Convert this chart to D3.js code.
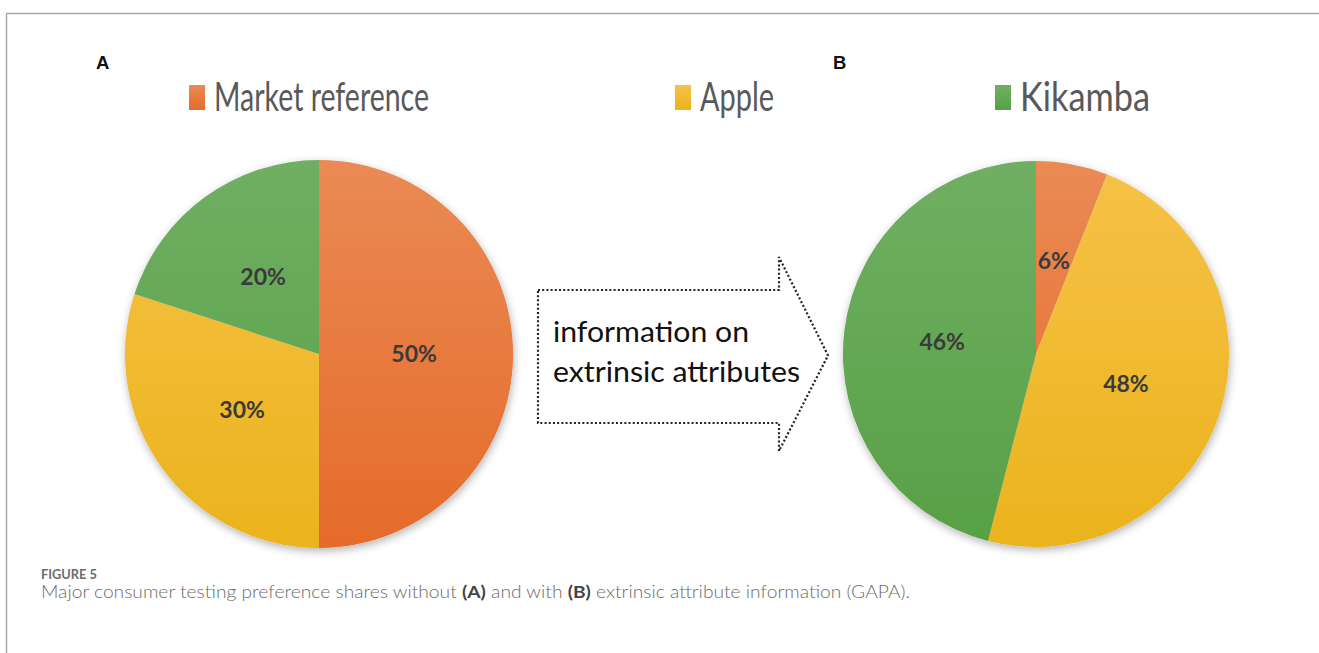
<!DOCTYPE html>
<html>
<head>
<meta charset="utf-8">
<script src="https://cdn.jsdelivr.net/npm/d3@7"></script>
<style>
  body { margin: 0; background: #fff; }
  svg { display: block; }
</style>
</head>
<body>
<div id="container"></div>
<script>
/**
 * DATA
 * */
const categories = ["Market reference", "Apple", "Kikamba"];
const sharesA = [50, 30, 20];   // without extrinsic info
const sharesB = [6, 48, 46];    // with extrinsic info
const panelLabels = ["A", "B"];
const arrowLines = ["information on", "extrinsic attributes"];
const captionTitle = "FIGURE 5";

const width = 1319, height = 653;

// colours: [top, bottom] of each slice gradient
const colorPairs = {
  "Market reference": ["#ea8a55", "#e56b29"],
  "Apple": ["#f6c248", "#ebb31c"],
  "Kikamba": ["#70af63", "#57a045"]
};

const svg = d3.select("#container")
  .append("svg")
  .attr("width", width)
  .attr("height", height);

const defs = svg.append("defs");

defs.append("filter")
  .attr("id", "shadow")
  .attr("x", "-20%").attr("y", "-20%")
  .attr("width", "140%").attr("height", "140%")
  .append("feDropShadow")
  .attr("dx", 1).attr("dy", 3)
  .attr("stdDeviation", 4)
  .attr("flood-color", "#000")
  .attr("flood-opacity", 0.3);

// frame lines (top + left)
svg.append("line")
  .attr("x1", 6).attr("y1", 13.5).attr("x2", width).attr("y2", 13.5)
  .attr("stroke", "#aaa").attr("stroke-width", 1.5);
svg.append("line")
  .attr("x1", 6.5).attr("y1", 13).attr("x2", 6.5).attr("y2", height)
  .attr("stroke", "#aaa").attr("stroke-width", 1.5);

// panel letters
const letterX = [96, 833];
svg.selectAll("text.panel")
  .data(panelLabels)
  .join("text")
  .attr("class", "panel")
  .attr("x", (d, i) => letterX[i])
  .attr("y", 68.5)
  .attr("font-family", "Liberation Sans, Arial, sans-serif")
  .attr("font-weight", "bold")
  .attr("font-size", 18.5)
  .attr("fill", "#111")
  .text(d => d);

// legend
const legendX = [189, 675, 995];
const legendW = [215, 74, 130];
const legend = svg.selectAll("g.legend")
  .data(categories)
  .join("g")
  .attr("class", "legend")
  .attr("transform", (d, i) => `translate(${legendX[i]},0)`);

legend.each(function(d) {
  const g = d3.select(this);
  const gid = "leg" + d.replace(/\s/g, "");
  const lg = defs.append("linearGradient")
    .attr("id", gid).attr("x1", 0).attr("y1", 0).attr("x2", 0).attr("y2", 1);
  lg.append("stop").attr("offset", "0%").attr("stop-color", colorPairs[d][0]);
  lg.append("stop").attr("offset", "100%").attr("stop-color", colorPairs[d][1]);
  g.append("rect")
    .attr("x", 0).attr("y", 85)
    .attr("width", 16).attr("height", 25)
    .attr("fill", `url(#${gid})`);
});

legend.append("text")
  .attr("x", 25)
  .attr("y", 111)
  .attr("font-family", "Lato, 'Open Sans', sans-serif")
  .attr("font-size", 40)
  .attr("fill", "#595959")
  .attr("textLength", (d, i) => legendW[i])
  .attr("lengthAdjust", "spacingAndGlyphs")
  .text(d => d);

// pies
const pies = [
  { values: sharesA, cx: 319, cy: 354, r: 194 },
  { values: sharesB, cx: 1036, cy: 354, r: 193 }
];

const pieGen = d3.pie().sort(null).value(d => d.value);

pies.forEach((p, pi) => {
  const data = categories.map((c, i) => ({ name: c, value: p.values[i] }));
  const arcs = pieGen(data);
  const arc = d3.arc().innerRadius(0).outerRadius(p.r);
  const labelArc = d3.arc().innerRadius(p.r * 0.49).outerRadius(p.r * 0.49);

  categories.forEach(c => {
    const lg = defs.append("linearGradient")
      .attr("id", `g${pi}${c.replace(/\s/g, "")}`)
      .attr("gradientUnits", "userSpaceOnUse")
      .attr("x1", 0).attr("y1", -p.r).attr("x2", 0).attr("y2", p.r);
    lg.append("stop").attr("offset", "0%").attr("stop-color", colorPairs[c][0]);
    lg.append("stop").attr("offset", "100%").attr("stop-color", colorPairs[c][1]);
  });

  const g = svg.append("g")
    .attr("transform", `translate(${p.cx},${p.cy})`);

  g.append("circle")
    .attr("r", p.r)
    .attr("fill", "#ddd")
    .attr("filter", "url(#shadow)");

  g.selectAll("path")
    .data(arcs)
    .join("path")
    .attr("d", arc)
    .attr("fill", d => `url(#g${pi}${d.data.name.replace(/\s/g, "")})`);

  g.selectAll("text")
    .data(arcs)
    .join("text")
    .attr("transform", d => `translate(${labelArc.centroid(d)})`)
    .attr("text-anchor", "middle")
    .attr("dy", "0.36em")
    .attr("font-family", "Lato, 'Open Sans', sans-serif")
    .attr("font-weight", "bold")
    .attr("font-size", 23)
    .attr("fill", "#3a3a3a")
    .text(d => d.data.value + "%");
});

// dotted arrow
const ax0 = 538, ax1 = 779, atip = 828, ay0 = 290, ay1 = 423, ahTop = 257, ahBot = 451;
const arrowPts = [
  [ax0, ay0], [ax1, ay0], [ax1, ahTop], [atip, (ay0 + ay1) / 2 - 1],
  [ax1, ahBot], [ax1, ay1], [ax0, ay1]
];
svg.append("path")
  .attr("d", d3.line()(arrowPts) + "Z")
  .attr("fill", "none")
  .attr("stroke", "#222")
  .attr("stroke-width", 2.2)
  .attr("stroke-dasharray", "2 2.2");

svg.selectAll("text.arrow")
  .data(arrowLines)
  .join("text")
  .attr("class", "arrow")
  .attr("x", 553)
  .attr("y", (d, i) => 342 + i * 40)
  .attr("font-family", "Lato, 'Open Sans', sans-serif")
  .attr("font-size", 28)
  .attr("fill", "#111")
  .attr("textLength", (d, i) => [196, 247][i])
  .attr("lengthAdjust", "spacingAndGlyphs")
  .text(d => d);

// caption
svg.append("text")
  .attr("x", 41)
  .attr("y", 579)
  .attr("font-family", "Lato, 'Open Sans', sans-serif")
  .attr("font-size", 13.5)
  .attr("font-weight", "bold")
  .attr("fill", "#6b6b6b")
  .attr("textLength", 56)
  .attr("lengthAdjust", "spacingAndGlyphs")
  .text(captionTitle);

const cap = svg.append("text")
  .attr("x", 41)
  .attr("y", 598)
  .attr("font-family", "Lato, 'Open Sans', sans-serif")
  .attr("font-size", 17.5)
  .attr("font-weight", 300)
  .attr("fill", "#6b6b6b")
  .attr("textLength", 869)
  .attr("lengthAdjust", "spacingAndGlyphs");
cap.append("tspan").text("Major consumer testing preference shares without ");
cap.append("tspan").attr("font-weight", "bold").attr("fill", "#444").text("(A)");
cap.append("tspan").text(" and with ");
cap.append("tspan").attr("font-weight", "bold").attr("fill", "#444").text("(B)");
cap.append("tspan").text(" extrinsic attribute information (GAPA).");
</script>
</body>
</html>
